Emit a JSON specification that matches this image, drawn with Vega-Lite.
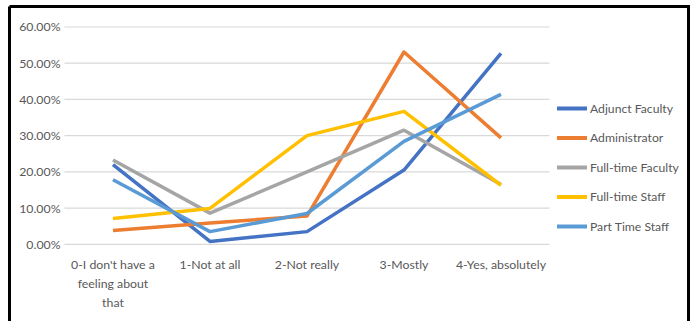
{
  "$schema": "https://vega.github.io/schema/vega-lite/v6.json",
  "width": 679,
  "height": 314.5,
  "autosize": {"type": "none"},
  "padding": {"left": 9.5, "top": 6.5, "right": 6.5, "bottom": 0},
  "background": "white",
  "config": {
    "view": {"stroke": "black", "strokeWidth": 3, "strokeDash": [993.5, 679, 314.5, 0]},
    "font": "Lato",
    "axis": {"labelColor": "#595959", "labelFont": "Lato"},
    "legend": {"labelFont": "Lato"}
  },
  "encoding": {
    "x": {
      "field": "cat",
      "type": "nominal",
      "bandPosition": 0.5,
      "scale": {
        "type": "band",
        "domain": ["0-I don't have a feeling about that", "1-Not at all", "2-Not really", "3-Mostly", "4-Yes, absolutely"],
        "paddingInner": 0,
        "paddingOuter": 1.174,
        "align": 0.2834
      },
      "axis": {
        "title": null,
        "orient": "bottom",
        "offset": -76.7,
        "domain": false,
        "ticks": false,
        "grid": false,
        "labelAngle": 0,
        "labelPadding": 14,
        "labelFontSize": 12.3,
        "labelLineHeight": 19,
        "labelLimit": 0,
        "labelExpr": "indexof(datum.label, 'feeling') > 0 ? [\"0-I don't have a\", 'feeling about', 'that'] : datum.label"
      }
    },
    "y": {
      "field": "value",
      "type": "quantitative",
      "scale": {"domain": [-0.2118, 0.6566], "nice": false, "zero": false},
      "axis": {
        "title": null,
        "offset": -61.5,
        "values": [0, 0.1, 0.2, 0.3, 0.4, 0.5, 0.6],
        "format": ".2%",
        "domain": false,
        "ticks": false,
        "grid": false,
        "labelPadding": 11,
        "labelFontSize": 12.3
      }
    }
  },
  "layer": [
    {
      "data": {"values": [{"value": 0}, {"value": 0.1}, {"value": 0.2}, {"value": 0.3}, {"value": 0.4}, {"value": 0.5}, {"value": 0.6}]},
      "mark": {"type": "rule", "color": "#D9D9D9", "strokeWidth": 1.2},
      "encoding": {
        "x": {"datum": "0-I don't have a feeling about that", "bandPosition": 0},
        "x2": {"datum": "4-Yes, absolutely", "bandPosition": 1}
      }
    },
    {
      "data": {
        "values": [
          {"group": "Adjunct Faculty", "cat": "0-I don't have a feeling about that", "value": 0.220},
          {"group": "Adjunct Faculty", "cat": "1-Not at all", "value": 0.008},
          {"group": "Adjunct Faculty", "cat": "2-Not really", "value": 0.035},
          {"group": "Adjunct Faculty", "cat": "3-Mostly", "value": 0.205},
          {"group": "Adjunct Faculty", "cat": "4-Yes, absolutely", "value": 0.527},
          {"group": "Administrator", "cat": "0-I don't have a feeling about that", "value": 0.038},
          {"group": "Administrator", "cat": "1-Not at all", "value": 0.059},
          {"group": "Administrator", "cat": "2-Not really", "value": 0.078},
          {"group": "Administrator", "cat": "3-Mostly", "value": 0.531},
          {"group": "Administrator", "cat": "4-Yes, absolutely", "value": 0.294},
          {"group": "Full-time Faculty", "cat": "0-I don't have a feeling about that", "value": 0.233},
          {"group": "Full-time Faculty", "cat": "1-Not at all", "value": 0.086},
          {"group": "Full-time Faculty", "cat": "2-Not really", "value": 0.200},
          {"group": "Full-time Faculty", "cat": "3-Mostly", "value": 0.315},
          {"group": "Full-time Faculty", "cat": "4-Yes, absolutely", "value": 0.165},
          {"group": "Full-time Staff", "cat": "0-I don't have a feeling about that", "value": 0.071},
          {"group": "Full-time Staff", "cat": "1-Not at all", "value": 0.099},
          {"group": "Full-time Staff", "cat": "2-Not really", "value": 0.300},
          {"group": "Full-time Staff", "cat": "3-Mostly", "value": 0.367},
          {"group": "Full-time Staff", "cat": "4-Yes, absolutely", "value": 0.163},
          {"group": "Part Time Staff", "cat": "0-I don't have a feeling about that", "value": 0.178},
          {"group": "Part Time Staff", "cat": "1-Not at all", "value": 0.035},
          {"group": "Part Time Staff", "cat": "2-Not really", "value": 0.085},
          {"group": "Part Time Staff", "cat": "3-Mostly", "value": 0.284},
          {"group": "Part Time Staff", "cat": "4-Yes, absolutely", "value": 0.414}
        ]
      },
      "mark": {"type": "line", "strokeWidth": 3.5, "strokeJoin": "round"},
      "encoding": {
        "color": {
          "field": "group",
          "type": "nominal",
          "scale": {
            "domain": ["Adjunct Faculty", "Administrator", "Full-time Faculty", "Full-time Staff", "Part Time Staff"],
            "range": ["#4472C4", "#ED7D31", "#A5A5A5", "#FFC000", "#5B9BD5"]
          },
          "legend": {
            "title": null,
            "orient": "none",
            "legendX": 545.5,
            "legendY": 85,
            "padding": 0,
            "symbolType": "stroke",
            "symbolSize": 900,
            "symbolStrokeWidth": 4,
            "labelFontSize": 12.2,
            "labelColor": "#595959",
            "labelOffset": 1,
            "rowPadding": 4.5,
            "labelLimit": 0
          }
        }
      }
    }
  ]
}
